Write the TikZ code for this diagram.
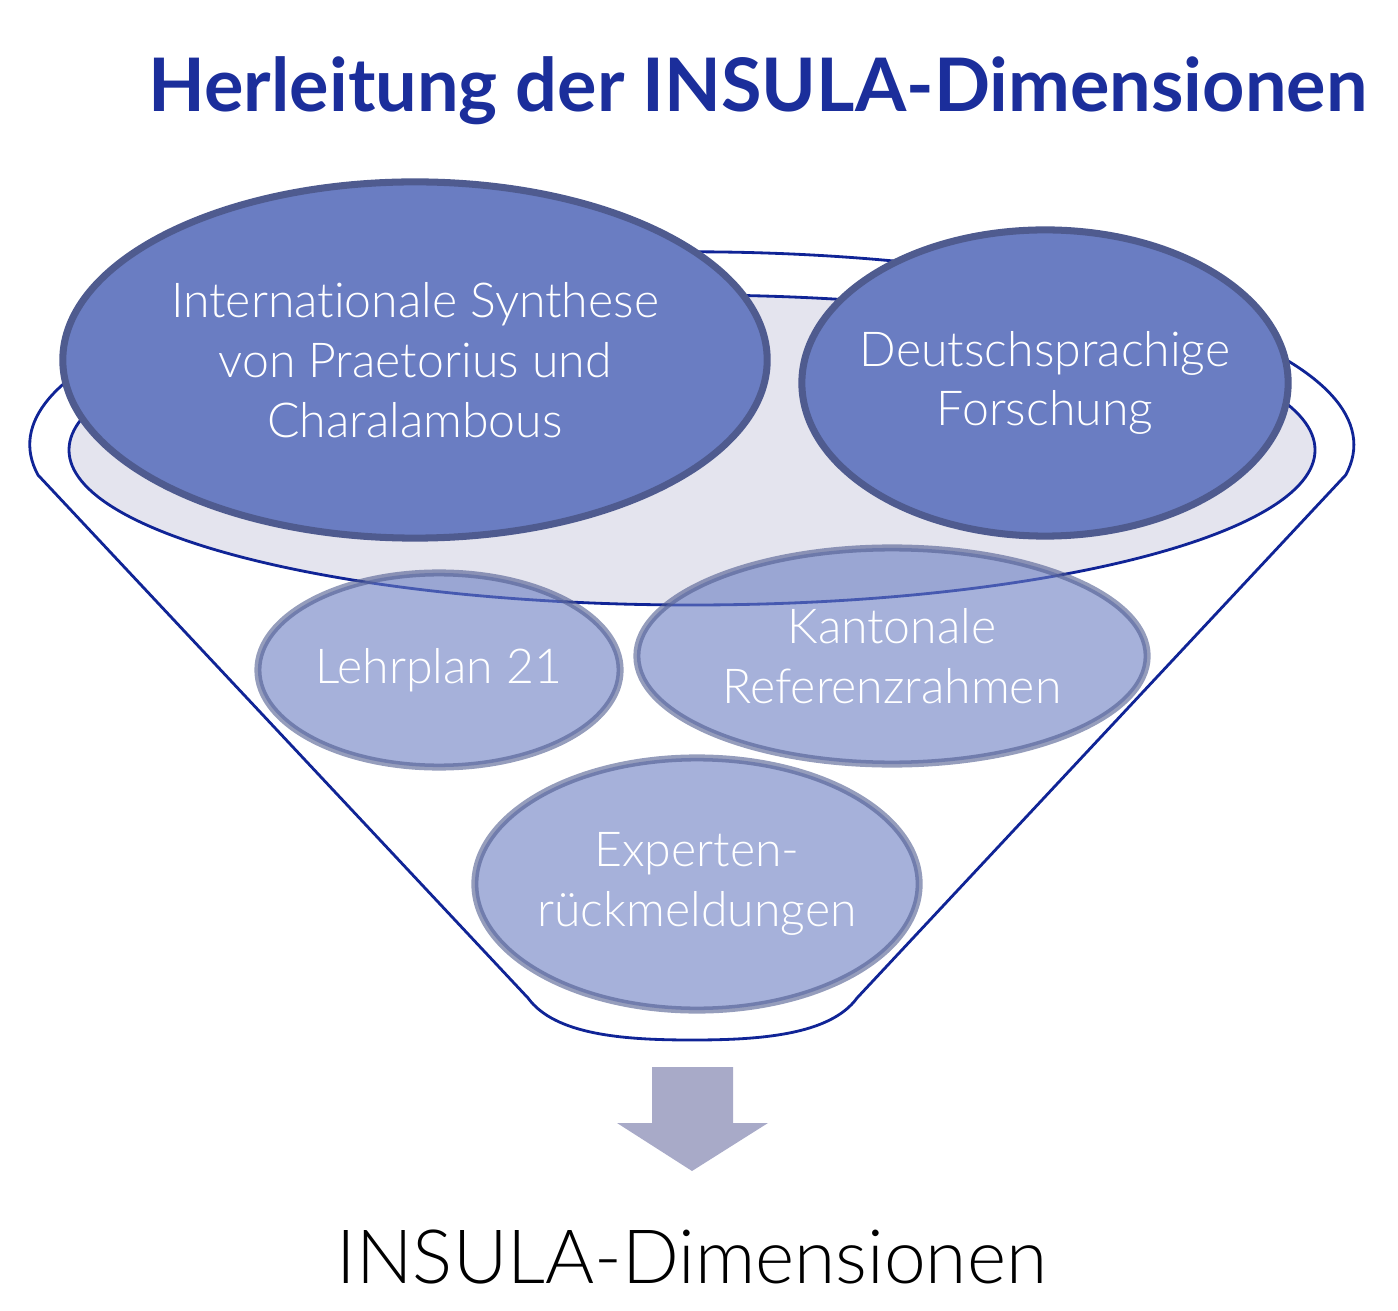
\documentclass[tikz,border=0pt]{standalone}
\usepackage{fontspec}
\setmainfont{Lato}[UprightFont=* Light, BoldFont=* Bold, Ligatures=NoCommon]
\usetikzlibrary{shapes.geometric}

\definecolor{trichterblau}{RGB}{16,36,150}
\definecolor{titelblau}{RGB}{27,46,155}
\definecolor{fuellblau}{RGB}{106,125,194}
\definecolor{randblau}{RGB}{79,91,143}
\definecolor{schalengrau}{RGB}{228,228,238}
\definecolor{pfeilgrau}{RGB}{168,170,200}

\tikzset{
  trichter/.style={draw=trichterblau, line width=0.8pt},
  quelle/.style={ellipse, draw=randblau, line width=2pt, fill=fuellblau, inner sep=0pt},
  quelleklein/.style={quelle, fill opacity=0.6, draw opacity=0.6},
  quelltext/.style={text=white, align=center, font=\fontsize{13.7}{17}\selectfont},
}

\begin{document}
\begin{tikzpicture}[x=0.01cm, y=-0.01cm]
\useasboundingbox (0,0) rectangle (1398,1310);

% Trichter
\draw[trichter] (528,998) -- (38,475)
  arc[start angle=171, end angle=369, x radius=662, y radius=193]
  -- (857,998) .. controls (830,1035) and (760,1040) .. (692,1040)
  .. controls (624,1040) and (555,1035) .. (528,998);
\draw[trichter, fill=schalengrau] (692,450) ellipse [x radius=623, y radius=155];

% Quellen oben
\node[quelle, minimum width=7.04cm, minimum height=3.56cm] (synthese) at (415,360) {};
\node[quelltext] (synthese-text) at (synthese) {Internationale Synthese\\von Praetorius und\\Charalambous};
\node[quelle, minimum width=4.86cm, minimum height=3.06cm] (forschung) at (1045,383) {};
\node[quelltext] (forschung-text) at (forschung) {Deutschsprachige\\Forschung};

% Quellen unten
\node[quelleklein, minimum width=3.62cm, minimum height=1.94cm] (lehrplan) at (439,670) {};
\node[quelltext] (lehrplan-text) at (lehrplan) {Lehrplan 21};
\node[quelleklein, minimum width=5.10cm, minimum height=2.16cm] (kanton) at (892,656) {};
\node[quelltext] (kanton-text) at (kanton) {Kantonale\\Referenzrahmen};
\node[quelleklein, minimum width=4.44cm, minimum height=2.52cm] (experten) at (697,884) {};
\node[quelltext] (experten-text) at (experten) {Experten-\\rückmeldungen};

% Pfeil
\fill[pfeilgrau] (652,1067) -- (733,1067) -- (733,1123) -- (768,1123)
  -- (692,1171) -- (617,1123) -- (652,1123) -- cycle;

\node[anchor=base, text=titelblau, font=\fontsize{21}{25}\selectfont\bfseries] (titel) at (758,112) {Herleitung der INSULA-Dimensionen};
\node[anchor=base, font=\fontsize{21.3}{25}\selectfont] (ergebnis) at (692,1283) {INSULA-Dimensionen};
\end{tikzpicture}
\end{document}
